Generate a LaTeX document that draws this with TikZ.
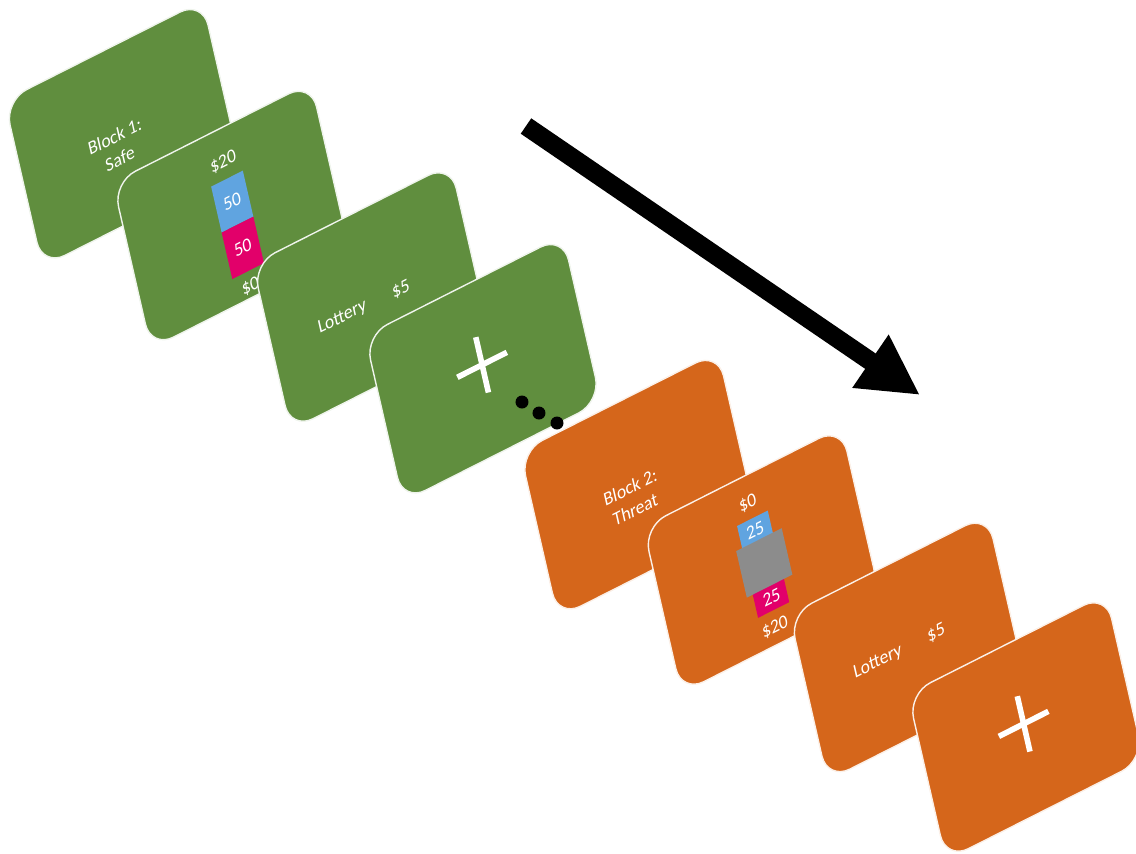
\documentclass[tikz,border=0pt]{standalone}
\usepackage{fontspec}
\setmainfont{Carlito}
\usetikzlibrary{arrows.meta}
\usepackage{xcolor}
\definecolor{safegreen}{RGB}{96,142,62}
\definecolor{threatorange}{RGB}{213,102,27}
\definecolor{winblue}{RGB}{96,164,224}
\definecolor{losspink}{RGB}{226,0,106}
\definecolor{covergray}{RGB}{140,140,140}

\begin{document}
\begin{tikzpicture}[
    slide/.style={cm={0.495,0.25,-0.1267,0.5533,(#1)},
        every node/.style={transform shape, text=white, align=center, font=\fontsize{9.5}{11.5}\selectfont}},
    card/.style={fill=#1, draw=white!90!#1, line width=0.4pt, rounded corners=2.5mm},
    fixcross/.style={white, line width=1.6pt}
]
    \useasboundingbox (0,0) rectangle (11.36,-8.53);

    % block 1: safe
    \begin{scope}[slide={0.045,-1.007}]
        \draw[card=safegreen] (0,0) rectangle (4,-3);
        \node (block1) at (1.85,-1.68) {Block 1:\\Safe};
    \end{scope}
    \begin{scope}[slide={1.13,-1.825}]
        \draw[card=safegreen] (0,0) rectangle (4,-3);
        \fill[winblue] (1.76,-0.87) rectangle (2.40,-1.70);
        \fill[losspink] (1.76,-1.70) rectangle (2.40,-2.54);
        \node (winprob1) at (2.08,-1.28) {50};
        \node (lossprob1) at (2.08,-2.12) {50};
        \node (winamt1) at (2.08,-0.57) {\$20};
        \node (lossamt1) at (2.06,-2.81) {\$0};
    \end{scope}
    \begin{scope}[slide={2.527,-2.64}]
        \draw[card=safegreen] (0,0) rectangle (4,-3);
        \node (lottery1) at (1.4,-1.6) {Lottery};
        \node (sure1) at (2.58,-1.62) {\$5};
    \end{scope}
    \begin{scope}[slide={3.65,-3.357}]
        \draw[card=safegreen] (0,0) rectangle (4,-3);
        \draw[fixcross] (1.5,-1.43) -- (2.5,-1.43);
        \draw[fixcross] (2,-0.93) -- (2,-1.93);
    \end{scope}

    % block 2: threat
    \begin{scope}[slide={5.20,-4.516}]
        \draw[card=threatorange] (0,0) rectangle (4,-3);
        \node (block2) at (1.85,-1.68) {Block 2:\\Threat};
    \end{scope}
    \begin{scope}[slide={6.434,-5.27}]
        \draw[card=threatorange] (0,0) rectangle (4,-3);
        \fill[winblue] (1.70,-0.75) rectangle (2.32,-1.58);
        \fill[losspink] (1.70,-1.58) rectangle (2.33,-2.41);
        \node (winprob2) at (2.01,-0.97) {25};
        \fill[covergray] (1.58,-1.15) rectangle (2.50,-1.99);
        \node (lossprob2) at (2.03,-2.19) {25};
        \node (winamt2) at (1.99,-0.47) {\$0};
        \node (lossamt2) at (1.97,-2.70) {\$20};
    \end{scope}
    \begin{scope}[slide={7.895,-6.144}]
        \draw[card=threatorange] (0,0) rectangle (4,-3);
        \node (lottery2) at (1.4,-1.5) {Lottery};
        \node (sure2) at (2.58,-1.5) {\$5};
    \end{scope}
    \begin{scope}[slide={9.08,-6.94}]
        \draw[card=threatorange] (0,0) rectangle (4,-3);
        \draw[fixcross] (1.47,-1.43) -- (2.47,-1.43);
        \draw[fixcross] (1.97,-0.93) -- (1.97,-1.93);
    \end{scope}

    \fill (5.22,-4.02) circle (0.065);
    \fill (5.39,-4.13) circle (0.065);
    \fill (5.57,-4.23) circle (0.065);

    \coordinate (arrowtail) at (5.26,-1.26);
    \coordinate (arrowtip) at (9.20,-3.95);
    \draw[line width=5.3pt, -{Triangle[length=6mm, width=6mm]}] (arrowtail) -- (arrowtip);
\end{tikzpicture}
\end{document}
